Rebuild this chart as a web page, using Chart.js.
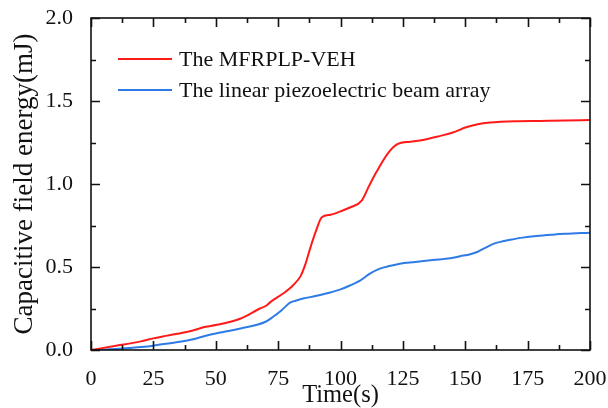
<!DOCTYPE html>
<html>
<head>
<meta charset="utf-8">
<title>Capacitive field energy</title>
<script src="https://cdn.jsdelivr.net/npm/chart.js@4.4.1/dist/chart.umd.min.js"></script>
<style>
	html, body { margin: 0; padding: 0; background: #fff; }
	canvas { display: block; }
</style>
</head>
<body>
<canvas id="energy" width="608" height="408"></canvas>
<script>

const seriesNames = [ 'The MFRPLP-VEH', 'The linear piezoelectric beam array' ];
const seriesColors = [ '#ff1a1a', '#2f7be6' ];

// MFRPLP-VEH: time (s) / energy (mJ)
const mfrTime = [ 0, 10, 20, 25, 30, 40, 46, 50, 60, 67.7, 70, 72, 77, 81, 84, 86, 88, 90, 92.5, 96, 100, 104, 108.5, 111.5, 114.5, 119, 122.8, 128, 133, 140, 145, 150, 155, 160, 170, 180, 190, 200 ];
const mfrEnergy = [ 0, 0.025, 0.052, 0.07, 0.085, 0.115, 0.14, 0.15, 0.19, 0.25, 0.265, 0.29, 0.34, 0.39, 0.445, 0.52, 0.62, 0.71, 0.80, 0.815, 0.835, 0.86, 0.90, 0.99, 1.075, 1.185, 1.24, 1.255, 1.265, 1.29, 1.31, 1.34, 1.36, 1.37, 1.378, 1.38, 1.382, 1.385 ];

// linear piezoelectric beam array
const beamTime = [ 0, 5, 10, 15, 20, 25, 30, 40, 46, 50, 60, 70, 73, 76.4, 79.8, 82, 85, 90, 95, 100, 104, 108, 111.8, 115.8, 120, 123.8, 130, 137, 144, 148, 152, 155, 158, 161, 165, 168, 173, 178.6, 185, 190, 200 ];
const beamEnergy = [ 0, 0.002, 0.006, 0.012, 0.018, 0.026, 0.037, 0.062, 0.086, 0.10, 0.13, 0.17, 0.20, 0.24, 0.285, 0.297, 0.31, 0.325, 0.343, 0.365, 0.39, 0.42, 0.46, 0.49, 0.507, 0.52, 0.53, 0.542, 0.553, 0.565, 0.577, 0.592, 0.615, 0.638, 0.655, 0.664, 0.677, 0.687, 0.695, 0.70, 0.707 ];

const xRange = [ 0, 200 ];
const yRange = [ 0, 2 ];
const xStep = 25;
const yStep = 0.5;

const serif = "'Liberation Serif', 'Times New Roman', serif";

const toPoints = ( xs, ys ) => xs.map( ( x, i ) => ( { x: x, y: ys[ i ] } ) );

// fixed axis box sizes, and no extra room for overhanging tick labels
const fixBox = ( w, h ) => s => {
	if ( w ) s.width = w;
	if ( h ) s.height = h;
	s.paddingLeft = s.paddingRight = s.paddingTop = s.paddingBottom = 0;
};

// closed box with inward major/minor ticks on every side
const framePlugin = {
	id: 'frame',
	afterDatasetsDraw( chart ) {
		const { ctx, chartArea: a, scales: { x, y } } = chart;
		ctx.save();
		ctx.strokeStyle = '#111';
		ctx.lineWidth = 1.6;
		ctx.strokeRect( a.left, a.top, a.right - a.left, a.bottom - a.top );
		ctx.beginPath();
		for ( let v = xRange[0]; v <= xRange[1]; v += xStep / 2 ) {
			const px = Math.round( x.getPixelForValue( v ) ) + 0.5;
			const len = v % xStep === 0 ? 9 : 5;
			ctx.moveTo( px, a.bottom ); ctx.lineTo( px, a.bottom - len );
			ctx.moveTo( px, a.top ); ctx.lineTo( px, a.top + len );
		}
		for ( let v = yRange[0]; v <= yRange[1] + 1e-9; v += yStep / 2 ) {
			const py = Math.round( y.getPixelForValue( v ) ) + 0.5;
			const len = Math.abs( v / yStep - Math.round( v / yStep ) ) < 1e-6 ? 9 : 5;
			ctx.moveTo( a.left, py ); ctx.lineTo( a.left + len, py );
			ctx.moveTo( a.right, py ); ctx.lineTo( a.right - len, py );
		}
		ctx.stroke();

		// legend sits inside the plot, top left
		ctx.font = `22px ${ serif }`;
		ctx.textBaseline = 'middle';
		ctx.fillStyle = '#111';
		chart.data.datasets.forEach( ( ds, i ) => {
			const ly = a.top + 41 + i * 31;
			ctx.strokeStyle = ds.borderColor;
			ctx.lineWidth = 2;
			ctx.beginPath();
			ctx.moveTo( a.left + 27, ly );
			ctx.lineTo( a.left + 81, ly );
			ctx.stroke();
			ctx.fillText( ds.label, a.left + 88, ly + 1 );
		} );
		ctx.restore();
	}
};

const chart = new Chart( 'energy', {
	type: 'line',
	data: {
		datasets: [
			{ label: seriesNames[0], data: toPoints( mfrTime, mfrEnergy ), borderColor: seriesColors[0] },
			{ label: seriesNames[1], data: toPoints( beamTime, beamEnergy ), borderColor: seriesColors[1] }
		]
	},
	options: {
		responsive: false,
		animation: false,
		layout: { padding: { top: 18, right: 18, left: 0, bottom: 0 } },
		elements: {
			point: { radius: 0 },
			line: { borderWidth: 2, cubicInterpolationMode: 'monotone', fill: false }
		},
		plugins: {
			legend: { display: false },
			tooltip: { enabled: false }
		},
		scales: {
			x: {
				type: 'linear',
				min: xRange[0],
				max: xRange[1],
				grid: { display: false },
				border: { display: false },
				ticks: { stepSize: xStep, padding: 8, color: '#111', font: { family: serif, size: 22 } },
				title: { display: true, text: 'Time(s)', color: '#111', padding: 0, font: { family: serif, size: 24.5, lineHeight: 1 } },
				afterFit: fixBox( 0, 58 )
			},
			y: {
				min: yRange[0],
				max: yRange[1],
				grid: { display: false },
				border: { display: false },
				ticks: { stepSize: yStep, padding: 10, color: '#111', font: { family: serif, size: 22 }, callback: v => v.toFixed( 1 ) },
				title: { display: true, text: 'Capacitive field energy(mJ)', color: '#111', padding: { top: 11, bottom: 0 }, font: { family: serif, size: 27, lineHeight: 1 } },
				afterFit: fixBox( 91, 0 )
			}
		}
	},
	plugins: [ framePlugin ]
} );
</script>
</body>
</html>
